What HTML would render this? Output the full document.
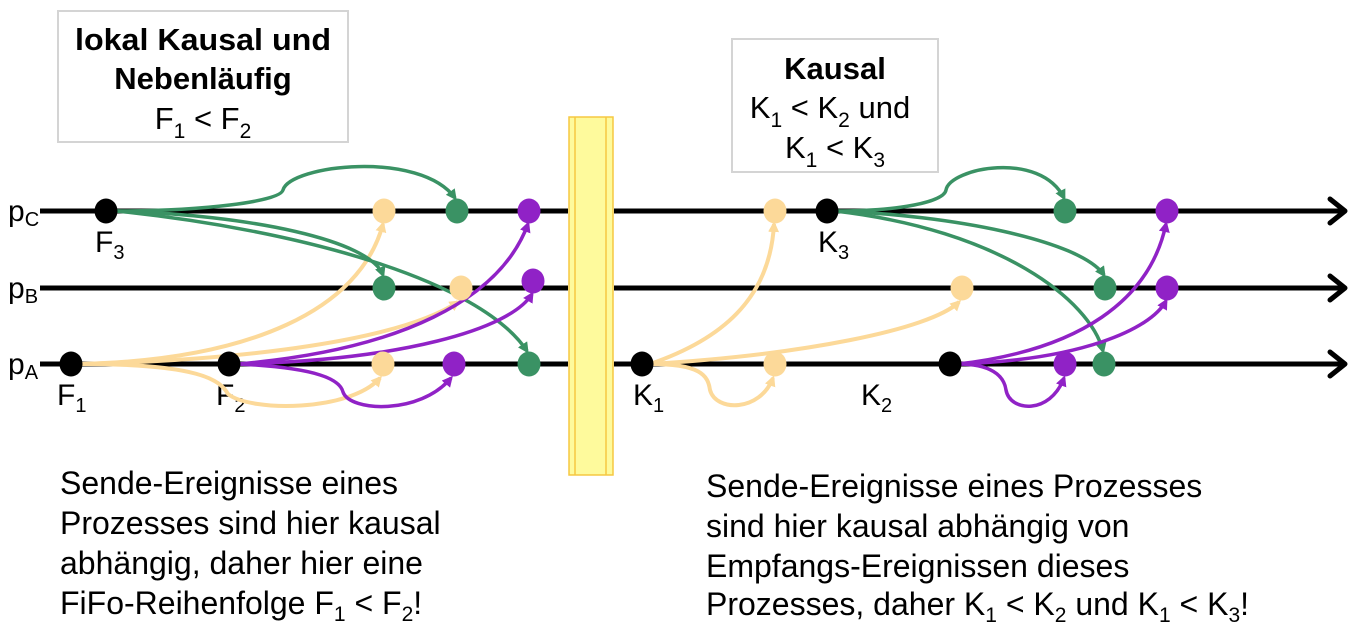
<!DOCTYPE html>
<html><head><meta charset="utf-8"><style>
html,body{margin:0;padding:0;background:#fff}
svg{display:block}
text{font-family:"Liberation Sans",Arial,sans-serif;fill:#000}
</style></head><body>
<svg width="1351" height="630" viewBox="0 0 1351 630" xmlns="http://www.w3.org/2000/svg">
<defs>
<marker id="ag" markerWidth="11" markerHeight="11" refX="8" refY="5.5" orient="auto" markerUnits="userSpaceOnUse"><path d="M0,0 L11,5.5 L0,11 Z" fill="#3a9264"/></marker>
<marker id="ay" markerWidth="11" markerHeight="11" refX="8" refY="5.5" orient="auto" markerUnits="userSpaceOnUse"><path d="M0,0 L11,5.5 L0,11 Z" fill="#fcd999"/></marker>
<marker id="ap" markerWidth="11" markerHeight="11" refX="8" refY="5.5" orient="auto" markerUnits="userSpaceOnUse"><path d="M0,0 L11,5.5 L0,11 Z" fill="#9022c6"/></marker>
</defs>
<!-- boxes -->
<rect x="58" y="11" width="290" height="131" fill="#fff" stroke="#d4d4d4" stroke-width="2"/>
<text x="203" y="50" font-size="31" font-weight="bold" text-anchor="middle" textLength="256" lengthAdjust="spacingAndGlyphs">lokal Kausal und</text>
<text x="203" y="89" font-size="31" font-weight="bold" text-anchor="middle">Nebenläufig</text>
<text x="203" y="129" font-size="31" text-anchor="middle">F<tspan font-size="21" dy="9">1</tspan><tspan dy="-9"> &lt; F</tspan><tspan font-size="21" dy="9">2</tspan></text>
<rect x="732" y="39" width="206" height="133" fill="#fff" stroke="#d4d4d4" stroke-width="2"/>
<text x="835" y="79" font-size="31" font-weight="bold" text-anchor="middle">Kausal</text>
<text x="830" y="118" font-size="31" text-anchor="middle">K<tspan font-size="21" dy="9">1</tspan><tspan dy="-9"> &lt; K</tspan><tspan font-size="21" dy="9">2</tspan><tspan dy="-9"> und</tspan></text>
<text x="835" y="158" font-size="31" text-anchor="middle">K<tspan font-size="21" dy="9">1</tspan><tspan dy="-9"> &lt; K</tspan><tspan font-size="21" dy="9">3</tspan></text>
<!-- yellow bar -->
<rect x="569" y="117" width="44" height="358" fill="#fefa9c" stroke="#f5c842" stroke-width="1.5"/>
<line x1="575" y1="117" x2="575" y2="475" stroke="#f5c842" stroke-width="1.5"/>
<line x1="606" y1="117" x2="606" y2="475" stroke="#f5c842" stroke-width="1.5"/>
<!-- process lines -->
<g stroke="#000" stroke-width="5">
<line x1="40" y1="211" x2="568" y2="211"/><line x1="40" y1="288" x2="568" y2="288"/><line x1="40" y1="364" x2="568" y2="364"/>
<line x1="614" y1="211" x2="1343" y2="211"/><line x1="614" y1="288" x2="1343" y2="288"/><line x1="614" y1="364" x2="1343" y2="364"/>
</g>
<g stroke="#000" stroke-width="5" fill="none" stroke-linecap="round" stroke-linejoin="round">
<path d="M1330,199 L1345,211 L1330,223"/><path d="M1330,276 L1345,288 L1330,300"/><path d="M1330,352 L1345,364 L1330,376"/>
</g>
<!-- labels -->
<text x="8" y="221" font-size="30">p<tspan font-size="20" dy="5">C</tspan></text>
<text x="8" y="298" font-size="30">p<tspan font-size="20" dy="5">B</tspan></text>
<text x="8" y="374" font-size="30">p<tspan font-size="20" dy="5">A</tspan></text>
<text x="95" y="252" font-size="30">F<tspan font-size="20" dy="7">3</tspan></text>
<text x="57" y="405" font-size="30">F<tspan font-size="20" dy="7">1</tspan></text>
<text x="216" y="405" font-size="30">F<tspan font-size="20" dy="7">2</tspan></text>
<text x="818" y="252" font-size="30">K<tspan font-size="20" dy="7">3</tspan></text>
<text x="633" y="405" font-size="30">K<tspan font-size="20" dy="7">1</tspan></text>
<text x="861" y="405" font-size="30">K<tspan font-size="20" dy="7">2</tspan></text>
<!-- arrows -->
<g fill="none" stroke-width="4">
<path d="M80,364 C250,360 360,310 383,224" stroke="#fcd999" marker-end="url(#ay)"/>
<path d="M80,364 C250,360 400,340 458,302" stroke="#fcd999" marker-end="url(#ay)"/>
<path d="M80,364 C200,364 220,380 228,394 C250,412 350,412 380,378" stroke="#fcd999" marker-end="url(#ay)"/>
<path d="M650,364 C720,340 770,300 774,224" stroke="#fcd999" marker-end="url(#ay)"/>
<path d="M650,364 C800,355 930,330 959,302" stroke="#fcd999" marker-end="url(#ay)"/>
<path d="M650,364 C700,364 708,375 710,390 C716,412 760,412 773,378" stroke="#fcd999" marker-end="url(#ay)"/>
</g>
<g fill="none" stroke-width="3.5">
<path d="M116,211 C200,211 280,202 283,190 C290,165 420,150 455,198" stroke="#3a9264" marker-end="url(#ag)"/>
<path d="M116,211 C250,215 370,240 383,275" stroke="#3a9264" marker-end="url(#ag)"/>
<path d="M116,211 C300,230 480,280 527,351" stroke="#3a9264" marker-end="url(#ag)"/>
<path d="M835,211 C900,211 944,202 946,190 C950,168 1040,150 1064,198" stroke="#3a9264" marker-end="url(#ag)"/>
<path d="M835,211 C950,215 1080,240 1104,275" stroke="#3a9264" marker-end="url(#ag)"/>
<path d="M835,211 C1000,230 1090,300 1103,351" stroke="#3a9264" marker-end="url(#ag)"/>
<path d="M238,364 C400,350 500,300 528,224" stroke="#9022c6" marker-end="url(#ap)"/>
<path d="M238,364 C400,360 510,330 532,294" stroke="#9022c6" marker-end="url(#ap)"/>
<path d="M238,364 C320,368 340,380 343,392 C350,412 420,415 451,378" stroke="#9022c6" marker-end="url(#ap)"/>
<path d="M958,364 C1080,350 1150,300 1166,224" stroke="#9022c6" marker-end="url(#ap)"/>
<path d="M958,364 C1080,360 1150,330 1166,301" stroke="#9022c6" marker-end="url(#ap)"/>
<path d="M958,364 C990,364 1004,375 1006,390 C1010,412 1050,415 1064,378" stroke="#9022c6" marker-end="url(#ap)"/>
</g>
<!-- nodes -->
<g>
<ellipse cx="106" cy="211" rx="11.5" ry="12.5" fill="#000"/>
<ellipse cx="384" cy="211" rx="11.5" ry="12.5" fill="#fcd999"/>
<ellipse cx="457" cy="211" rx="11.5" ry="12.5" fill="#3a9264"/>
<ellipse cx="529" cy="211" rx="11.5" ry="12.5" fill="#9022c6"/>
<ellipse cx="384" cy="288" rx="11.5" ry="12.5" fill="#3a9264"/>
<ellipse cx="461" cy="288" rx="11.5" ry="12.5" fill="#fcd999"/>
<ellipse cx="533" cy="281" rx="11.5" ry="12.5" fill="#9022c6"/>
<ellipse cx="71" cy="364" rx="11.5" ry="12.5" fill="#000"/>
<ellipse cx="229" cy="364" rx="11.5" ry="12.5" fill="#000"/>
<ellipse cx="383" cy="364" rx="11.5" ry="12.5" fill="#fcd999"/>
<ellipse cx="454" cy="364" rx="11.5" ry="12.5" fill="#9022c6"/>
<ellipse cx="529" cy="364" rx="11.5" ry="12.5" fill="#3a9264"/>
<ellipse cx="775" cy="211" rx="11.5" ry="12.5" fill="#fcd999"/>
<ellipse cx="827" cy="211" rx="11.5" ry="12.5" fill="#000"/>
<ellipse cx="1065" cy="211" rx="11.5" ry="12.5" fill="#3a9264"/>
<ellipse cx="1167" cy="211" rx="11.5" ry="12.5" fill="#9022c6"/>
<ellipse cx="962" cy="288" rx="11.5" ry="12.5" fill="#fcd999"/>
<ellipse cx="1105" cy="288" rx="11.5" ry="12.5" fill="#3a9264"/>
<ellipse cx="1167" cy="288" rx="11.5" ry="12.5" fill="#9022c6"/>
<ellipse cx="642" cy="364" rx="11.5" ry="12.5" fill="#000"/>
<ellipse cx="775" cy="364" rx="11.5" ry="12.5" fill="#fcd999"/>
<ellipse cx="950" cy="364" rx="11.5" ry="12.5" fill="#000"/>
<ellipse cx="1065" cy="364" rx="11.5" ry="12.5" fill="#9022c6"/>
<ellipse cx="1104" cy="364" rx="11.5" ry="12.5" fill="#3a9264"/>
</g>
<!-- bottom text -->
<g font-size="32">
<text x="60" y="494">Sende-Ereignisse eines</text>
<text x="60" y="534">Prozesses sind hier kausal</text>
<text x="60" y="574">abhängig, daher hier eine</text>
<text x="60" y="614">FiFo-Reihenfolge F<tspan font-size="21" dy="7">1</tspan><tspan dy="-7"> &lt; F</tspan><tspan font-size="21" dy="7">2</tspan><tspan dy="-7">!</tspan></text>
<text x="706" y="497">Sende-Ereignisse eines Prozesses</text>
<text x="706" y="537">sind hier kausal abhängig von</text>
<text x="706" y="577">Empfangs-Ereignissen dieses</text>
<text x="706" y="615">Prozesses, daher K<tspan font-size="21" dy="7">1</tspan><tspan dy="-7"> &lt; K</tspan><tspan font-size="21" dy="7">2</tspan><tspan dy="-7"> und K</tspan><tspan font-size="21" dy="7">1</tspan><tspan dy="-7"> &lt; K</tspan><tspan font-size="21" dy="7">3</tspan><tspan dy="-7">!</tspan></text>
</g>
</svg>
</body></html>
